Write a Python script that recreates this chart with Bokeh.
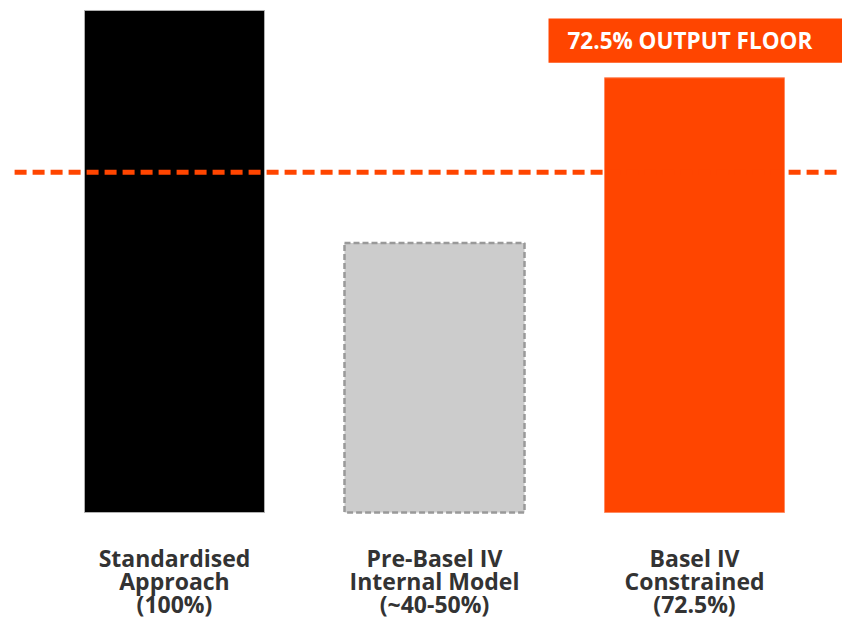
from bokeh.plotting import figure
from bokeh.models import Range1d, ColumnDataSource
from bokeh.core.properties import value
from bokeh.embed import file_html
from bokeh.resources import INLINE

# ---- data ----
categories = ["Standardised\nApproach\n(100%)",
              "Pre-Basel IV\nInternal Model\n(~40-50%)",
              "Basel IV\nConstrained\n(72.5%)"]
bar_values = [100, 53.7, 86.6]          # relative capital requirement
floor_level = 67.8                       # dashed output-floor reference line
floor_label = "72.5% OUTPUT FLOOR"

ORANGE = "#FF4500"
fills = ["#000000", "#CCCCCC", ORANGE]
outlines = ["#B0B0B0", "#999999", "#FF8A60"]
dashes = ["solid", "6 3", "solid"]
widths = [1, 2.5, 1]

W, H = 842, 620
xs = list(range(len(categories)))

p = figure(width=W, height=H, output_backend="svg", toolbar_location=None,
           x_range=Range1d(-0.6692, 2.5692), y_range=Range1d(-21.51, 101.99),
           min_border=0, min_border_left=0, min_border_right=0,
           min_border_top=0, min_border_bottom=0)
p.axis.visible = False
p.grid.visible = False
p.outline_line_color = None
p.background_fill_color = "white"
p.border_fill_color = "white"

bar_w = 0.6923
for i in xs:
    p.vbar(x=[xs[i]], top=[bar_values[i]], bottom=0, width=bar_w,
           fill_color=fills[i], line_color=outlines[i],
           line_dash=dashes[i], line_width=widths[i])

# output floor dashed line
p.segment(x0=[-0.615], x1=[2.7], y0=[floor_level], y1=[floor_level],
          line_color=ORANGE, line_width=5, line_dash="12 6")

# floor label box (anchored near third bar)
p.quad(left=[xs[2] - 0.5615], right=[xs[2] + 1.0], top=[98.4], bottom=[89.6],
       fill_color=ORANGE, line_color=None)
p.text(x=[xs[2] - 0.4885], y=[94.1], text=[floor_label],
       text_font=value("Open Sans"), text_font_style="bold",
       text_font_size="22.5px", text_color="white",
       text_align="left", text_baseline="middle")

# category labels under bars
src = ColumnDataSource(dict(x=xs, y=[-13.6] * len(xs), t=categories))
p.text(x="x", y="y", text="t", source=src,
       text_font=value("Open Sans"), text_font_style="bold",
       text_font_size="23px", text_color="#333333",
       text_align="center", text_baseline="middle", text_line_height=0.72)

open("out.html", "w").write(file_html(p, INLINE))
